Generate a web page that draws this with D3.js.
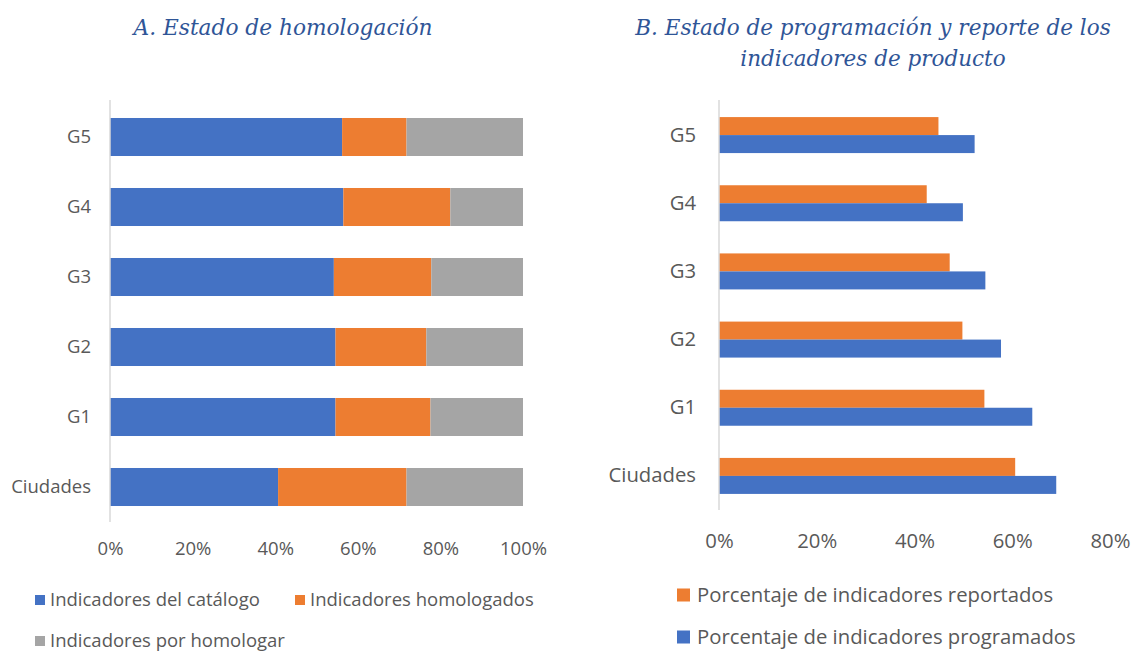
<!DOCTYPE html>
<html>
<head>
<meta charset="utf-8">
<script src="https://cdn.jsdelivr.net/npm/d3@7"></script>
<style>
  body { margin: 0; background: #fff; }
  text { font-family: "Open Sans", sans-serif; }
</style>
</head>
<body>
<div id="chart"></div>
<script>
// data
var categories = ["G5", "G4", "G3", "G2", "G1", "Ciudades"];

// panel A (shares of 100%)
var catalogo     = [56.2, 56.5, 54.2, 54.6, 54.6, 40.7];
var homologados  = [15.6, 25.9, 23.6, 22.0, 23.0, 31.1];
var porHomologar = [28.2, 17.6, 22.2, 23.4, 22.4, 28.2];
var ticksA = [0, 20, 40, 60, 80, 100];

// panel B
var reportados  = [44.9, 42.5, 47.2, 49.8, 54.3, 60.6];
var programados = [52.3, 49.9, 54.5, 57.7, 64.1, 69.0];
var ticksB = [0, 20, 40, 60, 80];

var keysA = ["catalogo", "homologados", "porHomologar"];
var labelsA = ["Indicadores del catálogo", "Indicadores homologados", "Indicadores por homologar"];
var keysB = ["reportados", "programados"];
var labelsB = ["Porcentaje de indicadores reportados", "Porcentaje de indicadores programados"];

var blue = "#4472C4", orange = "#ED7D31", grey = "#A5A5A5";
var textColor = "#595959", titleColor = "#2F5597", axisColor = "#D9D9D9";

var W = 1134, H = 651;

var svg = d3.select("#chart")
  .append("svg")
  .attr("width", W)
  .attr("height", H);

// ---------- Panel A ----------
var dataA = categories.map(function(c, i) {
  return {cat: c, catalogo: catalogo[i], homologados: homologados[i], porHomologar: porHomologar[i]};
});

var xA = d3.scaleLinear().domain([0, 100]).range([110, 523]);
var yA = d3.scaleBand().domain(categories).range([102, 522])
  .paddingInner(0.457).paddingOuter(0.2285);
var colorA = d3.scaleOrdinal().domain(keysA).range([blue, orange, grey]);

var stackedA = d3.stack().keys(keysA)(dataA);

svg.append("text")
  .attr("x", 283)
  .attr("y", 35)
  .attr("text-anchor", "middle")
  .style("font-family", "'DejaVu Serif', serif")
  .style("font-style", "italic")
  .style("font-size", "21.7px")
  .style("fill", titleColor)
  .text("A. Estado de homologación");

svg.append("g")
  .selectAll("g")
  .data(stackedA)
  .enter()
  .append("g")
    .style("fill", function(d) { return colorA(d.key); })
  .selectAll("rect")
  .data(function(d) { return d; })
  .enter()
  .append("rect")
    .attr("x", function(d) { return xA(d[0]); })
    .attr("y", function(d) { return yA(d.data.cat); })
    .attr("width", function(d) { return xA(d[1]) - xA(d[0]); })
    .attr("height", yA.bandwidth());

// y axis A
var yAxA = svg.append("g")
  .attr("transform", "translate(110,0)")
  .call(d3.axisLeft(yA).tickSize(0).tickPadding(19));
yAxA.select(".domain").attr("stroke", axisColor).attr("stroke-width", 1.5)
  .attr("d", "M0,100V522");
yAxA.selectAll("text").style("font-size", "18.5px").style("fill", textColor)
  .style("font-family", "'Open Sans', sans-serif");

// x axis A
var xAxA = svg.append("g")
  .attr("transform", "translate(0,522)")
  .call(d3.axisBottom(xA).tickValues(ticksA).tickSize(0).tickPadding(20)
    .tickFormat(function(d) { return d + "%"; }));
xAxA.select(".domain").remove();
xAxA.selectAll("text").style("font-size", "18.5px").style("fill", textColor)
  .style("font-family", "'Open Sans', sans-serif");

// legend A
var legA = [
  {key: keysA[0], label: labelsA[0], x: 35, y: 600},
  {key: keysA[1], label: labelsA[1], x: 295, y: 600},
  {key: keysA[2], label: labelsA[2], x: 35, y: 641}
];
var lgA = svg.append("g").selectAll("g").data(legA).enter().append("g")
  .attr("transform", function(d) { return "translate(" + d.x + "," + d.y + ")"; });
lgA.append("rect").attr("x", 0).attr("y", -5).attr("width", 10).attr("height", 10)
  .style("fill", function(d) { return colorA(d.key); });
lgA.append("text").attr("x", 15).attr("dy", "0.35em")
  .style("font-size", "18.5px").style("fill", textColor)
  .text(function(d) { return d.label; });

// ---------- Panel B ----------
var dataB = categories.map(function(c, i) {
  return {cat: c, reportados: reportados[i], programados: programados[i]};
});

var xB = d3.scaleLinear().domain([0, 80]).range([719, 1110]);
var yB = d3.scaleBand().domain(categories).range([101, 510])
  .paddingInner(0.472).paddingOuter(0.236);
var ySub = d3.scaleBand().domain(keysB).range([0, yB.bandwidth()]);
var colorB = d3.scaleOrdinal().domain(keysB).range([orange, blue]);

var titleB = svg.append("text")
  .attr("text-anchor", "middle")
  .style("font-family", "'DejaVu Serif', serif")
  .style("font-style", "italic")
  .style("font-size", "21.5px")
  .style("fill", titleColor);
titleB.append("tspan").attr("x", 873).attr("y", 35).text("B. Estado de programación y reporte de los");
titleB.append("tspan").attr("x", 873).attr("y", 66).text("indicadores de producto");

svg.append("g")
  .selectAll("g")
  .data(dataB)
  .enter()
  .append("g")
    .attr("transform", function(d) { return "translate(0," + yB(d.cat) + ")"; })
  .selectAll("rect")
  .data(function(d) { return keysB.map(function(k) { return {key: k, value: d[k]}; }); })
  .enter()
  .append("rect")
    .attr("x", xB(0))
    .attr("y", function(d) { return ySub(d.key); })
    .attr("width", function(d) { return xB(d.value) - xB(0); })
    .attr("height", ySub.bandwidth())
    .style("fill", function(d) { return colorB(d.key); });

var yAxB = svg.append("g")
  .attr("transform", "translate(719,0)")
  .call(d3.axisLeft(yB).tickSize(0).tickPadding(23));
yAxB.select(".domain").attr("stroke", axisColor).attr("stroke-width", 1.5)
  .attr("d", "M0,100V510");
yAxB.selectAll("text").style("font-size", "20.3px").style("fill", textColor)
  .style("font-family", "'Open Sans', sans-serif");

var xAxB = svg.append("g")
  .attr("transform", "translate(0,510)")
  .call(d3.axisBottom(xB).tickValues(ticksB).tickSize(0).tickPadding(24)
    .tickFormat(function(d) { return d + "%"; }));
xAxB.select(".domain").remove();
xAxB.selectAll("text").style("font-size", "20.3px").style("fill", textColor)
  .style("font-family", "'Open Sans', sans-serif");

// legend B
var lgB = svg.append("g").selectAll("g").data(keysB).enter().append("g")
  .attr("transform", function(d, i) { return "translate(677," + (595 + i * 42) + ")"; });
lgB.append("rect").attr("x", 0).attr("y", -6.5).attr("width", 13).attr("height", 13)
  .style("fill", function(d) { return colorB(d); });
lgB.append("text").attr("x", 20).attr("dy", "0.35em")
  .style("font-size", "20.3px").style("fill", textColor)
  .text(function(d, i) { return labelsB[i]; });
</script>
</body>
</html>
